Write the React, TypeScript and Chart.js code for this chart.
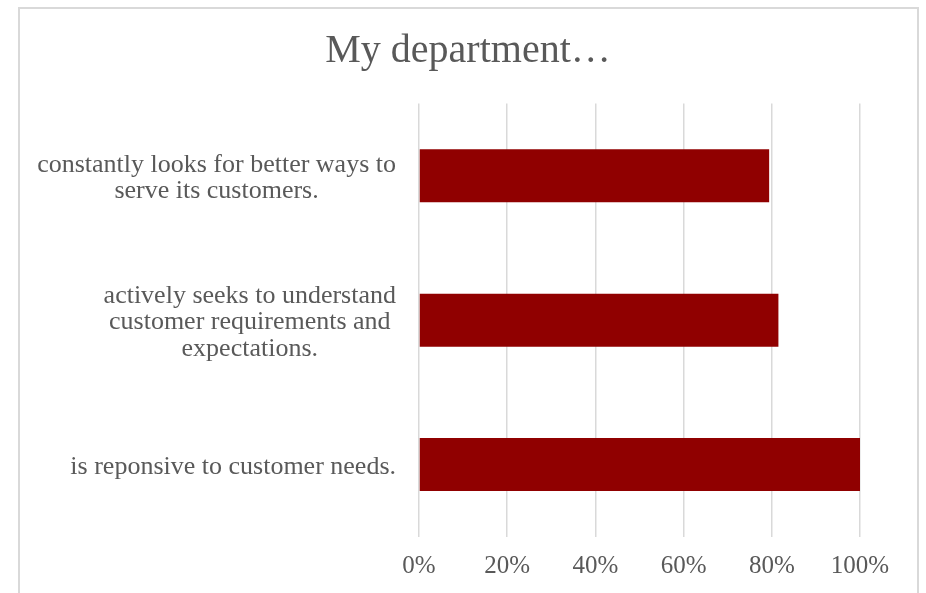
import React, { useEffect, useRef } from "react";
import { Chart, registerables } from "chart.js";

Chart.register(...registerables);

const titleText = "My department…";
const categories: string[][] = [
  ["constantly looks for better ways to", "serve its customers."],
  ["actively seeks to understand", "customer requirements and", "expectations."],
  ["is reponsive to customer needs."],
];
const values: number[] = [0.794, 0.815, 1.0];
const xTickMin = 0;
const xTickMax = 1;
const xTickStep = 0.2;

const FONT = "'Liberation Serif', 'Times New Roman', serif";
const TEXT = "#595959";
const GRID = "#d9d9d9";
const BAR = "#900000";

const yLabelPlugin = {
  id: "yLabelBlocks",
  afterDraw(chart: any) {
    const scale = chart.scales.y;
    const ctx = chart.ctx;
    const labels = chart.data.labels as string[][];
    const size = 26;
    const lineGap = 26.5;
    ctx.save();
    ctx.font = `${size}px ${FONT}`;
    ctx.fillStyle = TEXT;
    ctx.textAlign = "center";
    ctx.textBaseline = "alphabetic";
    const rightEdge = scale.right - 23;
    labels.forEach((lines, i) => {
      const cy = scale.getPixelForTick(i);
      const widest = Math.max(...lines.map((l) => ctx.measureText(l).width));
      const cx = rightEdge - widest / 2;
      const n = lines.length;
      lines.forEach((line, j) => {
        const y = cy + (j - (n - 1) / 2) * lineGap + 9;
        ctx.fillText(line, cx, y);
      });
    });
    ctx.restore();
  },
};

export default function App() {
  const ref = useRef<HTMLCanvasElement | null>(null);

  useEffect(() => {
    if (!ref.current) return;
    const chart = new Chart(ref.current, {
      type: "bar",
      data: {
        labels: categories as any,
        datasets: [
          {
            data: values,
            backgroundColor: BAR,
            borderWidth: 0,
            barPercentage: 0.367,
            categoryPercentage: 1,
          },
        ],
      },
      options: {
        indexAxis: "y",
        animation: false,
        responsive: false,
        maintainAspectRatio: false,
        layout: { padding: { left: 76, right: 66, top: 0, bottom: 0 } },
        plugins: {
          legend: { display: false },
          tooltip: { enabled: false },
          title: {
            display: true,
            text: titleText,
            color: TEXT,
            font: { family: FONT, size: 40, weight: "normal", lineHeight: 1.2 },
            padding: { top: 27, bottom: 28.6 },
          },
        },
        scales: {
          x: {
            type: "linear",
            min: xTickMin,
            max: xTickMax,
            ticks: {
              stepSize: xTickStep,
              color: TEXT,
              padding: 15,
              font: { family: FONT, size: 25, lineHeight: 1.2 },
              callback: (v: any) => `${Math.round(Number(v) * 100)}%`,
            },
            grid: { color: GRID, lineWidth: 1.5, drawTicks: false },
            border: { display: false },
            afterFit: (s: any) => {
              s.height = 56.3;
            },
          },
          y: {
            type: "category",
            ticks: { display: false },
            grid: { display: false },
            border: { display: false },
            afterFit: (s: any) => {
              s.width = 343;
            },
          },
        },
      },
      plugins: [yLabelPlugin],
    });
    return () => chart.destroy();
  }, []);

  return (
    <div style={{ position: "fixed", left: 0, top: 0, width: 926, height: 593, overflow: "hidden", background: "#fff" }}>
      <div
        style={{
          position: "absolute",
          left: 18,
          top: 7,
          width: 901,
          height: 700,
          boxSizing: "border-box",
          border: `2px solid ${GRID}`,
        }}
      />
      <canvas ref={ref} width={926} height={593} style={{ position: "absolute", left: 0, top: 0, width: 926, height: 593 }} />
    </div>
  );
}
